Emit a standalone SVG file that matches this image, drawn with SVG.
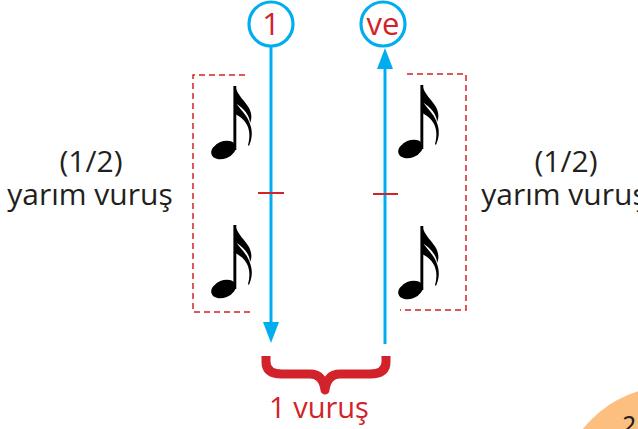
<svg xmlns="http://www.w3.org/2000/svg" width="638" height="429" viewBox="0 0 638 429">
<style>
.lbl{font-family:"Open Sans","Noto Sans",sans-serif;font-size:30px;fill:#231f20;text-anchor:middle}
.red{fill:#d2232a}
.beat{fill:none;stroke:#00aeef;stroke-width:3.2}
.line{stroke:#00aeef;stroke-width:3;fill:none}
.head{fill:#00aeef}
.box{fill:none;stroke:#d2232a;stroke-width:1.5;stroke-dasharray:6 4}
.tick{stroke:#d2232a;stroke-width:2}
</style>
<defs>
<g id="note">
<ellipse cx="-11.5" cy="2" rx="12.8" ry="8.6" transform="rotate(-22 -11.5 2)" fill="#000"/>
<rect x="-1.6" y="-62" width="2.9" height="64" fill="#000"/>
<path d="M0,-62 C3,-52 10,-47 14,-40 C17,-34 17,-29 15,-25 C15,-32 9,-40 0,-45 Z" fill="#000"/>
<path d="M0,-47 C4,-39 12,-34 15,-24 C18,-16 17,-9 14,-2 L13,-3 C15,-10 15,-17 12,-23 C9,-29 4,-32 0,-34 Z" fill="#000"/>
</g>
</defs>
<circle cx="672" cy="500" r="114" fill="#fcbf80"/>
<text x="620" y="436" font-family="Open Sans, sans-serif" font-size="27" font-style="italic" fill="#231f20">2</text>
<g id="connectors">
<line class="line" x1="271" y1="46" x2="271" y2="326"/>
<polygon class="head" points="263,322 279,322 271,343"/>
<line class="line" x1="385" y1="344" x2="385" y2="65"/>
<polygon class="head" points="377,69 393,69 385,48"/>
<line class="tick" x1="258" y1="193" x2="284" y2="193"/>
<line class="tick" x1="373" y1="194" x2="398" y2="194"/>
</g>
<g id="beat1">
<circle class="beat" cx="271" cy="24" r="22"/>
<text class="lbl red" x="271" y="35" style="font-size:31px">1</text>
</g>
<g id="beat-ve">
<circle class="beat" cx="383" cy="24" r="22"/>
<text class="lbl red" x="383" y="35" style="font-size:31px">ve</text>
</g>
<g id="left-half">
<path class="box" d="M245,75 L193,75 L193,312 L252,312"/>
<use href="#note" x="235" y="148"/>
<use href="#note" x="235" y="287"/>
</g>
<g id="right-half">
<path class="box" d="M407,74 L466,74 L466,310 L400,310"/>
<use href="#note" x="422" y="147"/>
<use href="#note" x="422" y="288"/>
</g>
<g id="left-label">
<text class="lbl" x="91" y="172">(1/2)</text>
<text class="lbl" x="90" y="205">yarım vuruş</text>
</g>
<g id="right-label">
<text class="lbl" x="566" y="172">(1/2)</text>
<text class="lbl" x="564" y="205">yarım vuruş</text>
</g>
<g id="brace">
<path d="M266,356 L266,362 Q266,374 282,374 L310,374 Q323,374 325,390 Q327,374 340,374 L370,374 Q386,374 386,362 L386,356" fill="none" stroke="#d2232a" stroke-width="9" stroke-linejoin="round"/>
<text class="lbl red" x="319" y="418" style="font-size:29px">1 vuruş</text>
</g>
</svg>
